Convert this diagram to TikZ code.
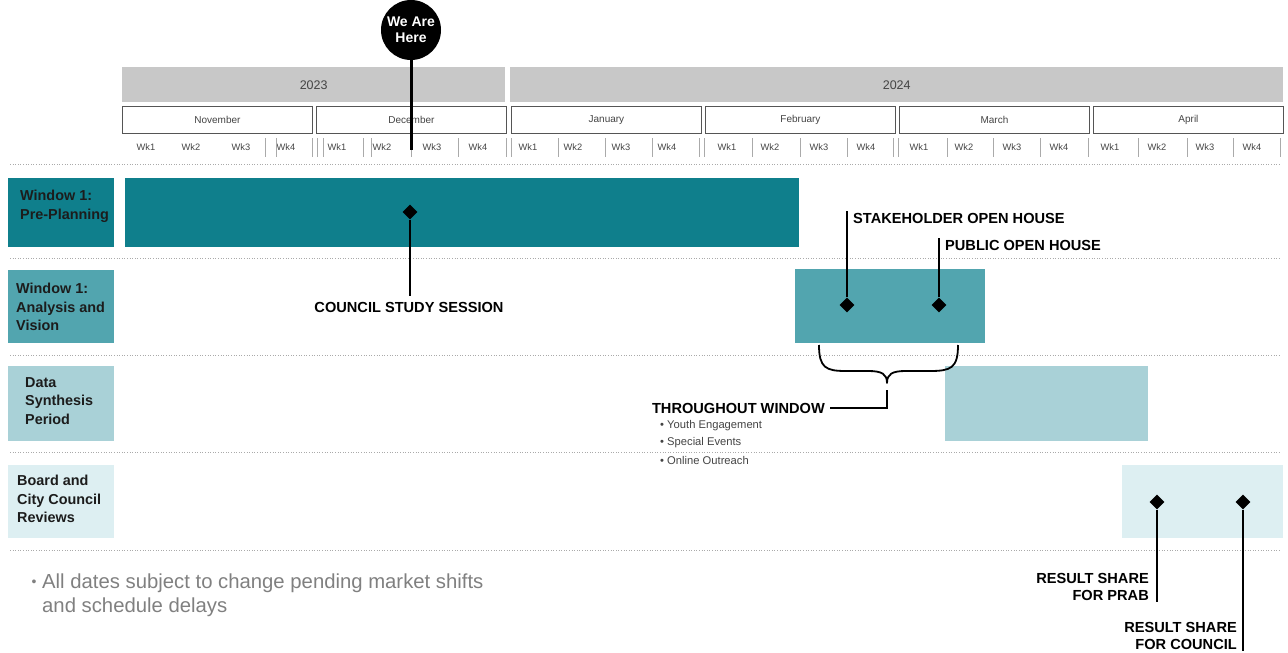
\documentclass[tikz,border=0pt]{standalone}
\usepackage{fontspec}
\setmainfont{Liberation Sans}
\usetikzlibrary{shapes.geometric}
\definecolor{rowA}{HTML}{0F7F8C}
\definecolor{rowB}{HTML}{52A5AF}
\definecolor{rowC}{HTML}{A9D1D7}
\definecolor{rowD}{HTML}{DDEFF2}
\definecolor{yeargray}{HTML}{C8C8C8}
\definecolor{boxline}{HTML}{555555}
\definecolor{txtgray}{HTML}{444444}
\definecolor{lightgray}{HTML}{AAAAAA}
\definecolor{notegray}{HTML}{808080}
\definecolor{labeltxt}{HTML}{1C1C1C}
\begin{document}
\begin{tikzpicture}[x=1pt,y=-1pt,
  yearbox/.style={rectangle, fill=yeargray, draw=none, anchor=north west, inner sep=0, minimum height=35pt, font=\fontsize{12.5}{14}\selectfont, text=txtgray},
  monthbox/.style={rectangle, fill=white, draw=boxline, line width=0.9pt, anchor=north west, inner sep=0, minimum height=27pt, minimum width=190pt, font=\fontsize{10}{12}\selectfont, text=txtgray},
  wk/.style={inner sep=0, font=\fontsize{9.3}{10}\selectfont, text=txtgray},
  sep/.style={draw=lightgray, line width=0.8pt},
  rowline/.style={draw=lightgray, line width=0.6pt, dotted},
  labelbox/.style={rectangle, anchor=north west, inner sep=0, minimum width=106pt, draw=none},
  labeltext/.style={anchor=west, align=left, inner sep=0, text=labeltxt, font=\fontsize{14.4}{18.5}\selectfont\bfseries},
  bar/.style={rectangle, anchor=north west, inner sep=0, draw=none},
  mile/.style={diamond, fill=black, draw=none, inner sep=0, minimum size=15pt},
  conn/.style={draw=black, line width=1.8pt},
  callout/.style={inner sep=0, text=black, font=\fontsize{14.6}{17}\selectfont\bfseries},
  bullet/.style={anchor=west, inner sep=0, text=txtgray, font=\fontsize{11.2}{12}\selectfont}
]
\useasboundingbox (0,0) rectangle (1288,653);

% years
\node[yearbox, minimum width=383pt] (y2023) at (122,67) {2023};
\node[yearbox, minimum width=773pt] (y2024) at (510,67) {2024};

% months
\foreach \x/\m/\n in {122/November/nov,316/December/dec,511/January/jan,705/February/feb,899/March/mar,1093/April/apr}
  \node[monthbox] (\n) at (\x,106) {\m};

% week labels
\foreach \x/\w [count=\i] in {146/1,191/2,241/3,286/4,337/1,382/2,432/3,478/4,528/1,573/2,621/3,667/4,727/1,770/2,819/3,866/4,919/1,964/2,1012/3,1059/4,1110/1,1157/2,1205/3,1252/4}
  \node[wk] (wk\i) at (\x,147) {Wk\w};

% week separators
\foreach \x in {265,276,312,317,323,363,371,411,458,506,511,558,605,652,699,704,752,800,847,893,898,947,993,1040,1088,1138,1187,1233,1280}
  \draw[sep] (\x,138) -- (\x,157);

% row separators
\foreach \y in {164,258,355,452,550}
  \draw[rowline] (10,\y) -- (1280,\y);

% row labels
\node[labelbox, fill=rowA, minimum height=69pt] (lab1) at (8,178) {};
\node[labeltext] (lab1t) at (20,206.5) {Window 1:\\Pre-Planning};
\node[labelbox, fill=rowB, minimum height=73pt] (lab2) at (8,270) {};
\node[labeltext] (lab2t) at (16,307) {Window 1:\\Analysis and\\Vision};
\node[labelbox, fill=rowC, minimum height=75pt] (lab3) at (8,366) {};
\node[labeltext] (lab3t) at (25,401) {Data\\Synthesis\\Period};
\node[labelbox, fill=rowD, minimum height=73pt] (lab4) at (8,465) {};
\node[labeltext] (lab4t) at (17,499) {Board and\\City Council\\Reviews};

% bars
\node[bar, fill=rowA, minimum width=674pt, minimum height=69pt] (bar1) at (125,178) {};
\node[bar, fill=rowB, minimum width=190pt, minimum height=74pt] (bar2) at (795,269) {};
\node[bar, fill=rowC, minimum width=203pt, minimum height=75pt] (bar3) at (945,366) {};
\node[bar, fill=rowD, minimum width=161pt, minimum height=73pt] (bar4) at (1122,465) {};

% We Are Here
\node[circle, fill=black, draw=none, minimum size=60pt, inner sep=0, align=center, text=white, font=\fontsize{14}{16}\selectfont\bfseries] (here) at (411,30) {We Are\\Here};
\coordinate (hereEnd) at (411,150);
\draw[draw=black, line width=3pt] (here) -- (hereEnd);

% milestones
\node[mile] (d1) at (410,212) {};
\node[mile] (d2) at (847,305) {};
\node[mile] (d3) at (939,305) {};
\node[mile] (d4) at (1157,502) {};
\node[mile] (d5) at (1243,502) {};

% council study session
\coordinate (cssEnd) at (410,296);
\draw[conn] (d1) -- (cssEnd);
\node[callout] (css) at (409,307) {COUNCIL STUDY SESSION};

% open houses
\coordinate (sohTop) at (847,211);
\draw[conn] (d2) -- (sohTop);
\node[callout, anchor=west] (soh) at (853,218) {STAKEHOLDER OPEN HOUSE};
\coordinate (pohTop) at (939,238);
\draw[conn] (d3) -- (pohTop);
\node[callout, anchor=west] (poh) at (945,245) {PUBLIC OPEN HOUSE};

% brace
\coordinate (brL) at (819,345);
\coordinate (brR) at (958,345);
\coordinate (brTip) at (887,383);
\draw[draw=black, line width=1.8pt, line join=round]
  (brL) .. controls (819,368) and (826,371) .. (846,371) -- (868,371)
  .. controls (882,371) and (887,374) .. (brTip)
  .. controls (887,374) and (892,371) .. (906,371) -- (930,371)
  .. controls (951,371) and (958,368) .. (brR);
\coordinate (thrA) at (887,390);
\coordinate (thrB) at (887,408);
\node[callout, anchor=east] (thr) at (825,408) {THROUGHOUT WINDOW};
\draw[draw=black, line width=1.5pt] (thrA) -- (thrB) -- (thr.east -| 830,408);
\node[bullet] (b1) at (660,426) {• Youth Engagement};
\node[bullet] (b2) at (660,443) {• Special Events};
\node[bullet] (b3) at (660,460) {• Online Outreach};

% result shares
\coordinate (prabEnd) at (1157,602);
\draw[conn] (d4) -- (prabEnd);
\node[callout, anchor=east, align=right] (prab) at (1149,587) {RESULT SHARE\\FOR PRAB};
\coordinate (counEnd) at (1243,651);
\draw[conn] (d5) -- (counEnd);
\node[callout, anchor=east, align=right] (coun) at (1237,636) {RESULT SHARE\\FOR COUNCIL};

% footnote
\node[inner sep=0, text=notegray, font=\fontsize{14}{24}\selectfont] (fnb) at (34,583) {\textbullet};
\node[inner sep=0, anchor=west, align=left, text=notegray, font=\fontsize{20.3}{24}\selectfont] (fn) at (42,595) {All dates subject to change pending market shifts\\and schedule delays};
\end{tikzpicture}
\end{document}
